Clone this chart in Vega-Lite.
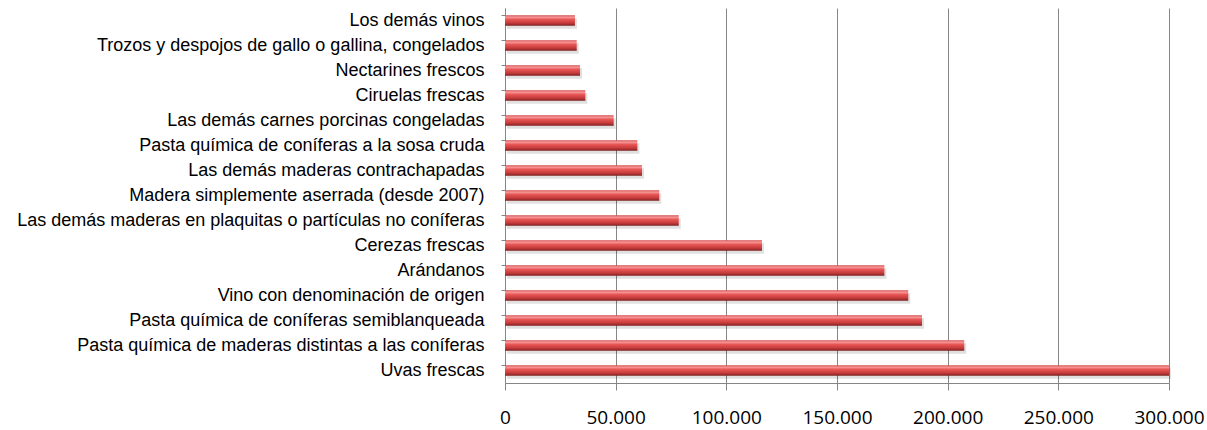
{
  "$schema": "https://vega.github.io/schema/vega-lite/v6.json",
  "autosize": {"type": "none"},
  "padding": {"left": 505, "top": 8, "right": 38, "bottom": 47},
  "width": 664,
  "height": 375,
  "background": "white",
  "config": {
    "locale": {"number": {"decimal": ",", "thousands": ".", "grouping": [3], "currency": ["", " €"]}},
    "view": {"stroke": null}
  },
  "data": {
    "values": [
      {"producto": "Los demás vinos", "valor": 31600},
      {"producto": "Trozos y despojos de gallo o gallina, congelados", "valor": 32400},
      {"producto": "Nectarines frescos", "valor": 33900},
      {"producto": "Ciruelas frescas", "valor": 36300},
      {"producto": "Las demás carnes porcinas congeladas", "valor": 49100},
      {"producto": "Pasta química de coníferas a la sosa cruda", "valor": 59800},
      {"producto": "Las demás maderas contrachapadas", "valor": 61900},
      {"producto": "Madera simplemente aserrada (desde 2007)", "valor": 69700},
      {"producto": "Las demás maderas en plaquitas o partículas no coníferas\u00a0", "valor": 78500},
      {"producto": "Cerezas frescas", "valor": 116100},
      {"producto": "Arándanos", "valor": 171400},
      {"producto": "Vino con denominación de origen\u00a0", "valor": 182200},
      {"producto": "Pasta química de coníferas semiblanqueada", "valor": 188400},
      {"producto": "Pasta química de maderas distintas a las coníferas", "valor": 207500},
      {"producto": "Uvas frescas", "valor": 300000}
    ]
  },
  "encoding": {
    "y": {
      "field": "producto",
      "type": "nominal",
      "sort": null,
      "scale": {"paddingInner": 0.58, "paddingOuter": 0.29},
      "axis": {
        "title": null,
        "bandPosition": 0,
        "labelFont": "Liberation Sans",
        "labelFontSize": 18,
        "labelColor": "#000000",
        "labelPadding": 17,
        "labelLimit": 600,
        "tickSize": 4,
        "tickColor": "#868686",
        "domainColor": "#868686",
        "grid": false
      }
    },
    "x": {
      "field": "valor",
      "type": "quantitative",
      "scale": {"domain": [0, 300000], "nice": false},
      "axis": {
        "title": null,
        "values": [0, 50000, 100000, 150000, 200000, 250000, 300000],
        "format": ",d",
        "labelFont": "Open Sans",
        "labelFontSize": 19,
        "labelColor": "#000000",
        "labelPadding": 18,
        "labelFlush": false,
        "labelOverlap": false,
        "tickSize": 7,
        "tickColor": "#868686",
        "domainColor": "#868686",
        "grid": true,
        "gridColor": "#868686",
        "gridWidth": 1
      }
    }
  },
  "layer": [
    {
      "mark": {"type": "bar", "color": "#000000", "opacity": 0.12, "yOffset": 3, "xOffset": 2}
    },
    {
      "mark": {
        "type": "bar",
        "color": {
          "gradient": "linear",
          "x1": 0, "y1": 0, "x2": 0, "y2": 1,
          "stops": [
            {"offset": 0, "color": "#d24848"},
            {"offset": 0.18, "color": "#f79a9a"},
            {"offset": 0.4, "color": "#e85656"},
            {"offset": 0.75, "color": "#c43a3a"},
            {"offset": 1, "color": "#7c2020"}
          ]
        }
      }
    }
  ]
}
